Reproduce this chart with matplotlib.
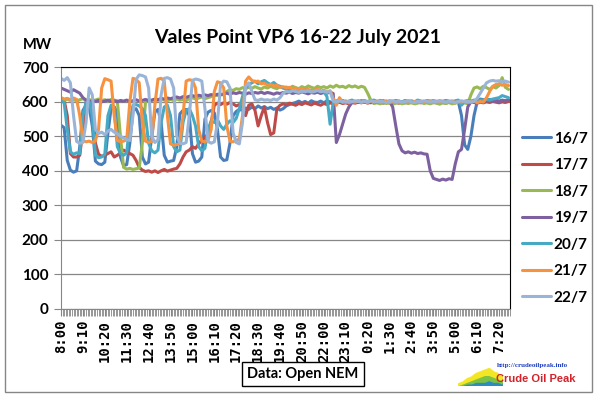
import numpy as np
import matplotlib.pyplot as plt
from matplotlib.patches import Rectangle

# eje de tiempo: ranuras de 5 minutos desde las 8:00 hasta las 7:55 del dia siguiente
n_slots = 288
tick_step = 14
tick_labels = ['8:00', '9:10', '10:20', '11:30', '12:40', '13:50', '15:00', '16:10',
               '17:20', '18:30', '19:40', '20:50', '22:00', '23:10', '0:20', '1:30',
               '2:40', '3:50', '5:00', '6:10', '7:20']
dias = ['16/7', '17/7', '18/7', '19/7', '20/7', '21/7', '22/7']

# valores leidos cada 10 minutos (MW), una fila = 2 horas
s16 = [532, 525, 430, 402, 396, 400, 470, 575, 590, 585, 530, 428,
       420, 418, 425, 510, 580, 585, 570, 440, 415, 418, 480, 575,
       580, 560, 440, 420, 425, 500, 570, 578, 540, 445, 425, 428,
       430, 470, 565, 575, 578, 560, 450, 425, 428, 440, 550, 570,
       575, 568, 520, 440, 430, 432, 480, 560, 572, 578, 575, 582,
       578, 585, 580, 588, 582, 586, 580, 584, 578, 582, 576, 580,
       588, 592, 595, 598, 602, 597, 601, 596, 603, 599, 598, 602,
       597, 603, 600, 596, 601, 598, 603, 599, 597, 602, 600, 598,
       603, 599, 601, 597, 602, 600, 598, 603, 599, 601, 597, 602,
       600, 598, 603, 599, 601, 597, 602, 600, 598, 603, 601, 599,
       602, 598, 600, 603, 599, 601, 597, 600, 560, 475, 462, 500,
       560, 600, 608, 606, 603, 607, 604, 606, 602, 605, 603, 606]
s17 = [610, 605, 560, 450, 440, 440, 445, 520, 600, 603, 598, 480,
       448, 442, 445, 450, 455, 440, 445, 452, 460, 455, 450, 445,
       430, 410, 402, 398, 400, 396, 400, 395, 400, 404, 399, 402,
       405, 407, 420, 440, 455, 460, 470, 465, 478, 490, 498, 505,
       540, 590, 596, 592, 597, 593, 598, 594, 588, 592, 585, 560,
       590, 594, 575, 530, 560, 585, 540, 505, 510, 580, 590, 594,
       591, 596, 593, 590, 595, 592, 597, 594, 591, 596, 593, 590,
       595, 592, 597, 594, 596, 599, 595, 597, 594, 598, 596, 599,
       597, 600, 596, 599, 597, 600, 598, 596, 599, 597, 600, 598,
       596, 599, 597, 600, 598, 596, 599, 597, 600, 598, 596, 599,
       597, 600, 598, 596, 599, 597, 600, 598, 596, 599, 597, 600,
       598, 596, 599, 597, 600, 598, 601, 599, 597, 600, 598, 601]
s18 = [606, 603, 608, 604, 607, 602, 606, 609, 604, 607, 603, 605,
       608, 604, 606, 602, 607, 605, 603, 500, 410, 405, 407, 404,
       406, 408, 480, 600, 606, 603, 607, 604, 608, 605, 603, 607,
       604, 608, 605, 607, 603, 610, 612, 608, 611, 614, 609, 612,
       615, 620, 618, 622, 620, 630, 635, 633, 638, 636, 641, 638,
       642, 639, 644, 640, 637, 643, 640, 645, 641, 638, 644, 640,
       643, 639, 645, 641, 638, 644, 640, 646, 642, 639, 645, 641,
       644, 640, 646, 642, 648, 643, 645, 641, 647, 643, 646, 641,
       645, 642, 625, 605, 595, 597, 594, 598, 595, 597, 593, 596,
       598, 594, 597, 595, 598, 594, 596, 599, 595, 597, 594, 598,
       596, 593, 597, 595, 598, 594, 596, 599, 595, 597, 594, 620,
       640, 643, 638, 645, 641, 636, 644, 640, 647, 670, 642, 636]
s19 = [640, 636, 632, 628, 635, 630, 625, 612, 605, 600, 603, 601,
       604, 600, 602, 605, 601, 603, 600, 604, 602, 605, 601, 603,
       606, 602, 604, 607, 603, 605, 608, 606, 610, 608, 611, 609,
       612, 614, 611, 615, 613, 616, 618, 615, 619, 617, 620, 618,
       621, 619, 622, 620, 623, 625, 622, 626, 624, 627, 625, 622,
       626, 624, 627, 625, 628, 624, 627, 625, 622, 626, 624, 627,
       625, 628, 624, 627, 625, 629, 626, 623, 627, 625, 628, 624,
       627, 625, 628, 624, 482, 505, 535, 565, 585, 598, 601, 599,
       602, 599, 601, 603, 600, 598, 602, 600, 599, 601, 585, 530,
       478, 458, 452, 455, 451, 454, 450, 452, 449, 448, 400, 378,
       375, 372, 376, 373, 377, 375, 420, 455, 462, 520, 585, 600,
       602, 599, 603, 600, 602, 604, 601, 603, 600, 604, 602, 605]
s20 = [602, 598, 520, 455, 448, 452, 450, 560, 598, 600, 560, 445,
       438, 440, 448, 560, 590, 585, 470, 450, 445, 452, 540, 590,
       592, 588, 580, 560, 480, 458, 452, 460, 540, 585, 590, 560,
       470, 455, 460, 540, 575, 580, 560, 530, 470, 458, 465, 520,
       545, 540, 548, 530, 520, 535, 545, 540, 552, 580, 615, 640,
       650, 655, 660, 652, 658, 662, 655, 650, 656, 648, 645, 640,
       636, 632, 635, 630, 634, 631, 635, 630, 633, 629, 634, 631,
       630, 615, 535, 598, 603, 600, 604, 599, 602, 605, 600, 603,
       601, 604, 600, 603, 605, 601, 604, 602, 600, 603, 601, 604,
       602, 600, 604, 601, 603, 600, 605, 602, 600, 603, 601, 604,
       600, 603, 601, 604, 602, 600, 603, 605, 590, 601, 604, 602,
       605, 603, 606, 604, 607, 605, 608, 610, 612, 618, 615, 612]
s21 = [612, 608, 610, 606, 611, 607, 560, 488, 484, 486, 482, 487,
       520, 640, 667, 664, 660, 560, 488, 484, 486, 490, 600, 668,
       665, 655, 540, 486, 482, 485, 590, 666, 668, 660, 560, 478,
       474, 476, 480, 560, 660, 664, 662, 640, 520, 486, 484, 488,
       520, 630, 658, 655, 640, 530, 486, 484, 488, 492, 560, 660,
       672, 662, 658, 660, 652, 654, 648, 650, 646, 648, 642, 644,
       640, 642, 638, 640, 636, 638, 634, 636, 632, 634, 636, 630,
       634, 628, 632, 610, 590, 612, 598, 603, 597, 601, 599, 602,
       598, 601, 597, 603, 599, 602, 598, 600, 603, 597, 601, 599,
       602, 598, 600, 603, 597, 601, 599, 602, 598, 600, 603, 597,
       601, 599, 602, 598, 600, 603, 597, 601, 599, 602, 598, 600,
       603, 597, 601, 599, 612, 630, 645, 650, 652, 648, 650, 647]
s22 = [668, 662, 670, 655, 560, 485, 480, 482, 540, 640, 620, 520,
       508, 512, 505, 515, 520, 512, 508, 500, 495, 490, 488, 560,
       665, 678, 676, 672, 640, 500, 482, 490, 620, 668, 670, 666,
       640, 500, 480, 478, 482, 560, 662, 666, 664, 660, 580, 485,
       480, 484, 540, 650, 660, 658, 640, 510, 482, 478, 540, 645,
       655, 630, 606, 604, 608, 605, 606, 604, 608, 605, 612, 625,
       630, 628, 632, 630, 627, 631, 629, 632, 628, 630, 633, 629,
       631, 628, 630, 602, 600, 603, 601, 599, 602, 600, 603, 601,
       599, 602, 600, 603, 601, 599, 602, 600, 598, 601, 603, 600,
       602, 599, 601, 603, 600, 598, 602, 600, 603, 601, 599, 602,
       600, 603, 601, 599, 602, 600, 598, 601, 603, 600, 602, 599,
       601, 610, 625, 640, 655, 660, 662, 660, 661, 658, 660, 657]
series = [s16, s17, s18, s19, s20, s21, s22]
colores = ['#4A7EBB', '#BE4B48', '#98B954', '#7D60A0', '#46AAC5', '#F69240', '#9AB4D8']

# datos del logo (area apilada decorativa)
logo_x = [0, 1, 2, 3, 4, 5, 6, 7, 8, 9, 10]
logo_a = [1, 1, 2, 2, 3, 3, 3, 4, 3, 3, 2]
logo_b = [0, 1, 1, 2, 2, 3, 4, 3, 3, 2, 2]
logo_c = [0, 0, 1, 1, 2, 2, 2, 3, 2, 2, 1]

W, H = 598, 397
fig = plt.figure(figsize=(W / 100, H / 100), dpi=100)
ax = fig.add_axes([61 / W, 1 - 308.8 / H, (510 - 61) / W, (308.8 - 67.3) / H])

xk = np.arange(0, n_slots, 2)  # posicion de cada muestra de 10 min
for vals, c, d in zip(series, colores, dias):
    ax.plot(xk, vals, color=c, lw=2.2, label=d, solid_joinstyle='round', solid_capstyle='round')

ax.set_xlim(0, n_slots - 1)
ax.set_ylim(0, 700)
ax.set_yticks(range(0, 701, 100))
ax.yaxis.grid(True, color='#868686', lw=0.9)
ax.set_axisbelow(True)
ax.set_xticks(np.arange(0, len(tick_labels) * tick_step, tick_step))
ax.set_xticklabels(tick_labels, rotation=90, fontfamily='DejaVu Sans Mono',
                   fontweight='bold', fontsize=10)
ax.set_xticks(np.arange(0, n_slots), minor=True)
ax.tick_params(axis='x', which='both', length=5, color='#868686', pad=3)
ax.tick_params(axis='y', length=5, color='#868686', pad=4)
for lbl in ax.get_yticklabels():
    lbl.set_fontweight('bold')
    lbl.set_fontsize(11)
    lbl.set_fontfamily('Lato')
for s in ['top', 'right']:
    ax.spines[s].set_color('black')
for s in ['left', 'bottom']:
    ax.spines[s].set_color('#868686')

# textos
fig.text(298 / W, 1 - 37 / H, 'Vales Point VP6 16-22 July 2021', ha='center', va='center',
         fontsize=14, fontweight='bold', fontfamily='Lato')
fig.text(23 / W, 1 - 45 / H, 'MW', ha='left', va='center', fontsize=10.5,
         fontweight='bold', fontfamily='Lato')
fig.text(303 / W, 1 - 374 / H, 'Data: Open NEM', ha='center', va='center', fontsize=10.5,
         fontweight='bold', fontfamily='Lato',
         bbox=dict(boxstyle='square,pad=0.35', fc='white', ec='black', lw=1))

# leyenda
fig.legend(loc='upper left', bbox_to_anchor=(514 / W, 1 - 124 / H), frameon=False,
           prop={'family': 'Lato', 'weight': 'bold', 'size': 11},
           handlelength=1.9, handletextpad=0.2, labelspacing=0.82, borderpad=0)

# logo
lax = fig.add_axes([458 / W, 1 - 385 / H, 44 / W, 17 / H])
lax.fill_between(logo_x, 0, logo_c, color='#2E8BC0')
lax.fill_between(logo_x, logo_c, np.add(logo_c, logo_b), color='#7DC242')
lax.fill_between(logo_x, np.add(logo_c, logo_b), np.add(np.add(logo_c, logo_b), logo_a), color='#F5E625')
lax.set_xlim(0, 10)
lax.set_ylim(0, 10)
lax.axis('off')
fig.text(532 / W, 1 - 366 / H, 'http://crudeoilpeak.info', ha='center', va='center',
         fontsize=5, color='#1F3FBF', fontfamily='Liberation Serif', fontweight='bold')
fig.text(536 / W, 1 - 379 / H, 'Crude Oil Peak', ha='center', va='center',
         fontsize=8, color='#D2232A', fontfamily='Liberation Sans', fontweight='bold')

# marco exterior
fig.patches.append(Rectangle((5 / W, 5 / H), 587 / W, 387 / H, transform=fig.transFigure,
                             fill=False, ec='#868686', lw=1))

fig.savefig('out.png', dpi=100)
